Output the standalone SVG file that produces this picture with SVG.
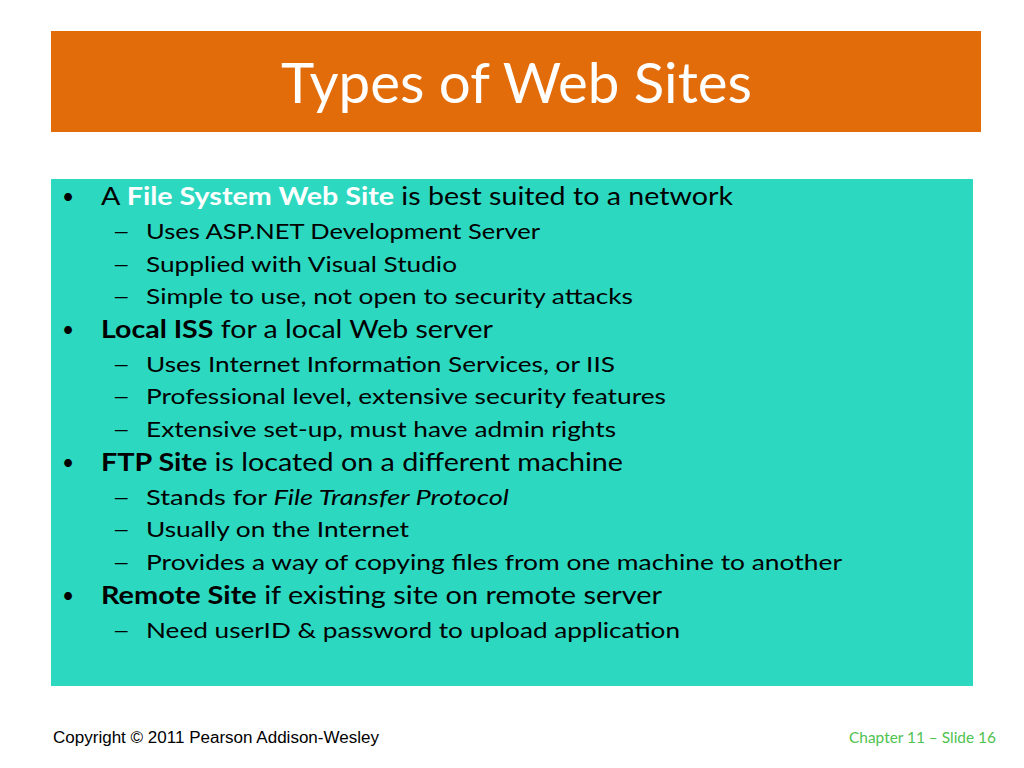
<svg xmlns="http://www.w3.org/2000/svg" width="1024" height="768" viewBox="0 0 1024 768">
<style>
.t{font-family:Lato,"Open Sans","Liberation Sans",sans-serif;fill:#000}
.l1{font-size:25px}
.l2{font-size:22px}
.b{font-weight:bold}
.i{font-style:italic}
.bul{font-family:Lato,"Open Sans","Liberation Sans",sans-serif;font-size:21px;fill:#000}
</style>
<rect width="1024" height="768" fill="#fff"/>
<g id="title">
<rect x="51" y="31" width="930" height="101" fill="#E36C0A"/>
<text class="t" x="281" y="103" font-size="56" style="fill:#fff" textLength="471" lengthAdjust="spacingAndGlyphs">Types of Web Sites</text>
</g>
<g id="body">
<rect x="51" y="179" width="922" height="507" fill="#2DD8C0"/>
<g class="bul">
<text x="62" y="204">•</text>
<text x="62" y="337">•</text>
<text x="62" y="470">•</text>
<text x="62" y="603">•</text>
</g>
<g class="t l2">
<text transform="translate(112,239) scale(1.45,1)">–</text>
<text transform="translate(112,272) scale(1.45,1)">–</text>
<text transform="translate(112,304) scale(1.45,1)">–</text>
<text transform="translate(112,372) scale(1.45,1)">–</text>
<text transform="translate(112,404) scale(1.45,1)">–</text>
<text transform="translate(112,437) scale(1.45,1)">–</text>
<text transform="translate(112,505) scale(1.45,1)">–</text>
<text transform="translate(112,537) scale(1.45,1)">–</text>
<text transform="translate(112,570) scale(1.45,1)">–</text>
<text transform="translate(112,638) scale(1.45,1)">–</text>
</g>
<text class="t l1" x="101" y="205" textLength="632" lengthAdjust="spacingAndGlyphs">A <tspan class="b" style="fill:#fff">File System Web Site</tspan> is best suited to a network</text>
<text class="t l2" x="146" y="239" textLength="394" lengthAdjust="spacingAndGlyphs">Uses ASP.NET Development Server</text>
<text class="t l2" x="146" y="272" textLength="311" lengthAdjust="spacingAndGlyphs">Supplied with Visual Studio</text>
<text class="t l2" x="146" y="304" textLength="487" lengthAdjust="spacingAndGlyphs">Simple to use, not open to security attacks</text>
<text class="t l1" x="101" y="338" textLength="392" lengthAdjust="spacingAndGlyphs"><tspan class="b">Local ISS</tspan> for a local Web server</text>
<text class="t l2" x="146" y="372" textLength="469" lengthAdjust="spacingAndGlyphs">Uses Internet Information Services, or IIS</text>
<text class="t l2" x="146" y="404" textLength="520" lengthAdjust="spacingAndGlyphs">Professional level, extensive security features</text>
<text class="t l2" x="146" y="437" textLength="470" lengthAdjust="spacingAndGlyphs">Extensive set-up, must have admin rights</text>
<text class="t l1" x="101" y="471" textLength="522" lengthAdjust="spacingAndGlyphs"><tspan class="b">FTP Site</tspan> is located on a different machine</text>
<text class="t l2" x="146" y="505" textLength="363" lengthAdjust="spacingAndGlyphs">Stands for <tspan class="i">File Transfer Protocol</tspan></text>
<text class="t l2" x="146" y="537" textLength="263" lengthAdjust="spacingAndGlyphs">Usually on the Internet</text>
<text class="t l2" x="146" y="570" textLength="696" lengthAdjust="spacingAndGlyphs">Provides a way of copying files from one machine to another</text>
<text class="t l1" x="101" y="604" textLength="561" lengthAdjust="spacingAndGlyphs"><tspan class="b">Remote Site</tspan> if existing site on remote server</text>
<text class="t l2" x="146" y="638" textLength="534" lengthAdjust="spacingAndGlyphs">Need userID &amp; password to upload application</text>
</g>
<g id="footer">
<text x="53" y="743" font-family="'Liberation Sans',Arial,sans-serif" font-size="16" fill="#000" textLength="326" lengthAdjust="spacingAndGlyphs">Copyright © 2011 Pearson Addison-Wesley</text>
<text x="849" y="743" font-family="Lato,'Open Sans',sans-serif" font-size="15" fill="#4FC24F" textLength="147" lengthAdjust="spacingAndGlyphs">Chapter 11 – Slide 16</text>
</g>
</svg>
